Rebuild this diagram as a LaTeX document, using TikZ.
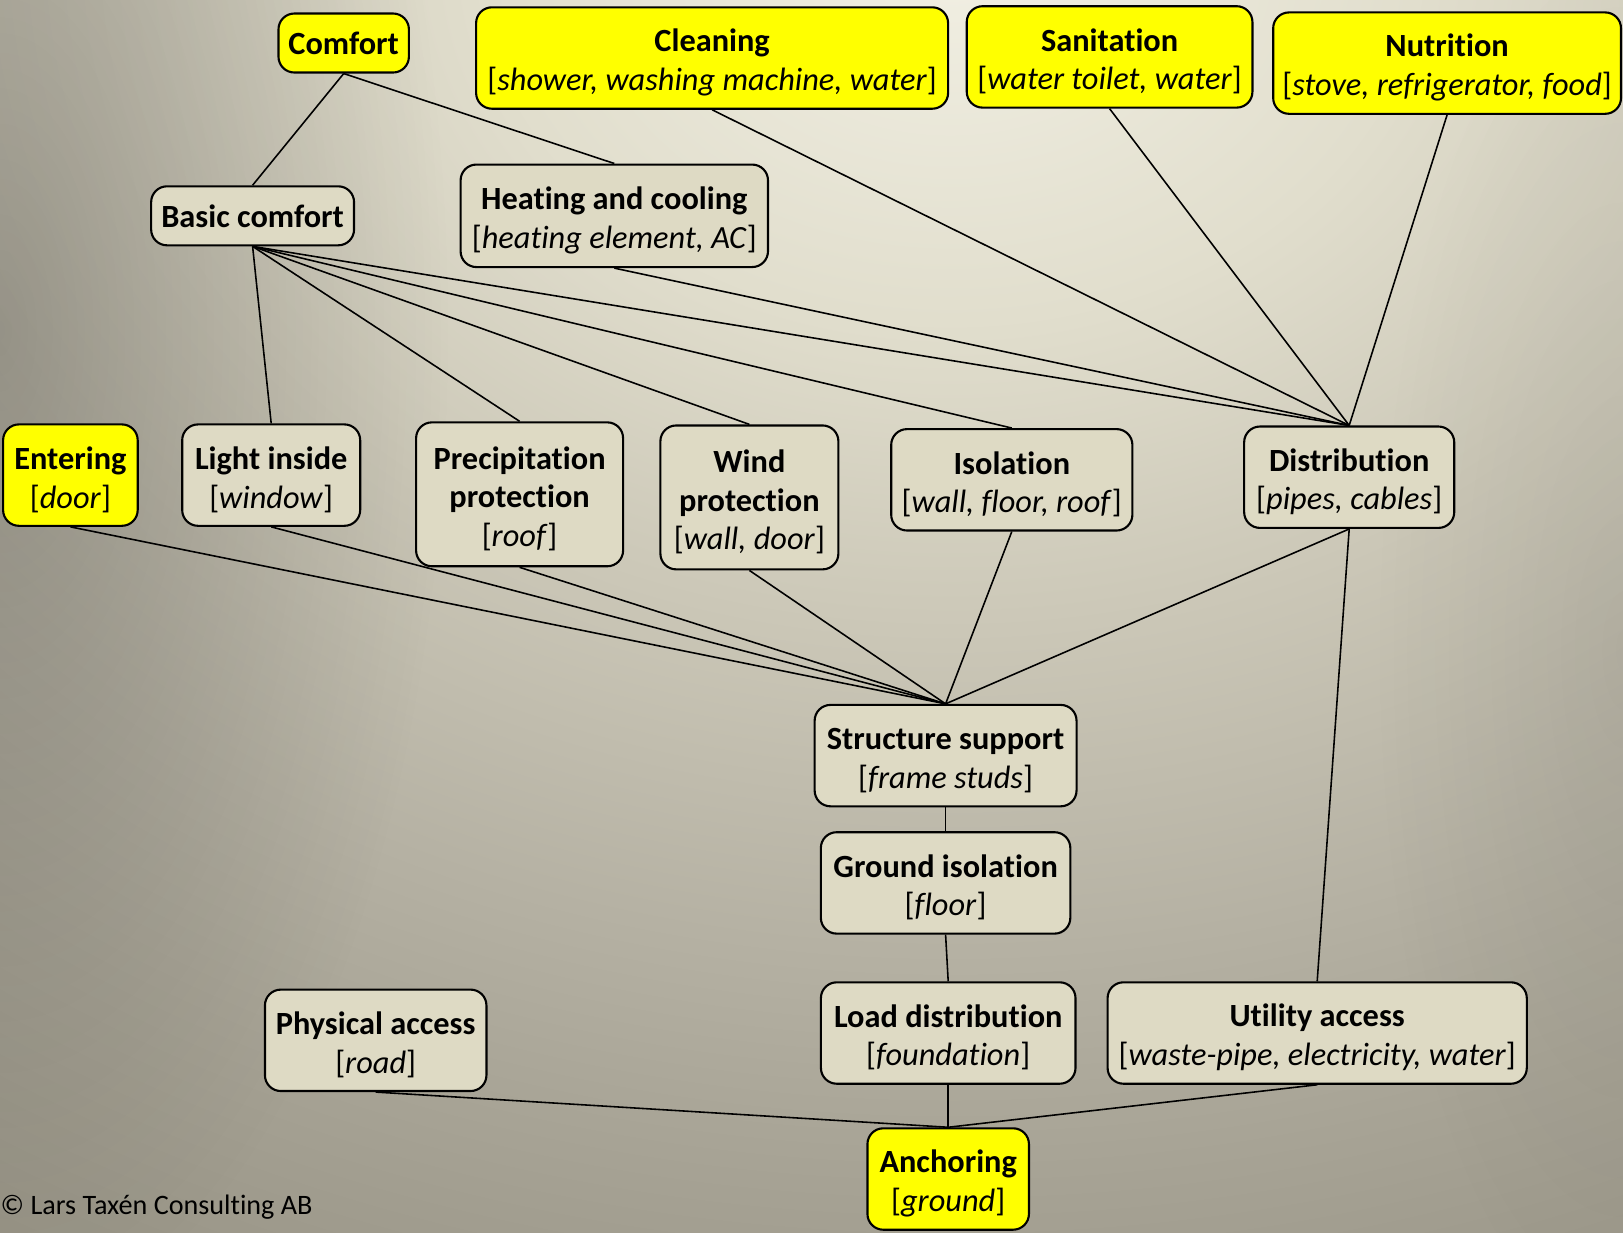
\documentclass[tikz,border=0pt]{standalone}
\usepackage{fontspec}
\setmainfont{Carlito}[Ligatures={NoCommon}]
\usetikzlibrary{fadings}
\definecolor{bgA}{RGB}{242,240,228}
\definecolor{bgB}{RGB}{225,222,205}
\definecolor{bgC}{RGB}{203,199,183}
\definecolor{bgD}{RGB}{181,177,163}
\definecolor{bgE}{RGB}{167,163,149}
\definecolor{bgF}{RGB}{154,150,136}
\definecolor{bgG}{RGB}{140,136,122}
\definecolor{goalyellow}{RGB}{255,255,0}
\definecolor{meansbeige}{RGB}{222,218,196}
% elliptical glow: the shaded path is twice the unit ellipse, so 12.5bp is the unit ellipse
\pgfdeclareradialshading{glow}{\pgfpoint{0bp}{0bp}}{color(0bp)=(bgA); color(4.625bp)=(bgB); color(8.5bp)=(bgC); color(12.5bp)=(bgD); color(15.25bp)=(bgE); color(18.125bp)=(bgF); color(25bp)=(bgG); color(50bp)=(bgG)}
\tikzfading[name=sidevignette, inner color=transparent!0, outer color=transparent!100]
\newcommand\exlist[1]{[\textit{#1}]}
\newcommand\hd[1]{\rule{0pt}{9pt}\textbf{#1}}
\begin{document}
\begin{tikzpicture}[x=0.01cm, y=-0.01cm,
  base/.style={draw=black, line width=0.6pt, rounded corners=4.5pt, align=center,
    inner sep=0pt, font=\fontsize{9.2}{11}\selectfont},
  goal/.style={base, fill=goalyellow},
  means/.style={base, fill=meansbeige},
  sz/.style 2 args={minimum width=#1*0.01cm, minimum height=#2*0.01cm},
  link/.style={line width=0.45pt, draw=black}]

% canvas and soft background glow
\useasboundingbox (0,0) rectangle (1623,1232);
\fill[bgG] (0,0) rectangle (1623,1232);
\begin{scope}
  \clip (0,0) rectangle (1623,1232);
  \shade[shading=glow] (950,-50) ellipse[x radius=25.24cm, y radius=20cm];
  \fill[black, opacity=0.22, path fading=sidevignette] (0,330) ellipse[x radius=4.5cm, y radius=10cm];
  \fill[black, opacity=0.07, path fading=sidevignette] (1623,650) ellipse[x radius=2.5cm, y radius=7cm];
\end{scope}

% top-level goals
\node[goal, sz={130.4}{59}]    (comfort) at (343.7,43.0)  {\textbf{Comfort}};
\node[goal, sz={472}{101.4}]   (clean)   at (712.1,58.0)  {\hd{Cleaning}\\\exlist{shower, washing machine, water}};
\node[goal, sz={285.7}{101.4}] (sanit)   at (1109.6,56.9) {\hd{Sanitation}\\\exlist{water toilet, water}};
\node[goal, sz={347.8}{101.4}] (nutri)   at (1447.1,63.1) {\hd{Nutrition}\\\exlist{stove, refrigerator, food}};

% second level
\node[means, sz={202.9}{59}]    (basic) at (252.6,215.8) {\textbf{Basic comfort}};
\node[means, sz={307.4}{102.5}] (heat)  at (614.3,215.8) {\hd{Heating and cooling}\\\exlist{heating element, AC}};

% functions of the building envelope
\node[goal, sz={134.6}{101.4}]  (enter)  at (70.4,475.1)   {\hd{Entering}\\\exlist{door}};
\node[means, sz={178}{101.4}]   (light)  at (271.2,475.1)  {\hd{Light inside}\\\exlist{window}};
\node[means, sz={207}{143.9}]   (precip) at (519.6,494.3)  {\hd{Precipitation}\\\textbf{protection}\\\exlist{roof}};
\node[means, sz={178}{143.9}]   (wind)   at (749.4,497.4)  {\hd{Wind}\\\textbf{protection}\\\exlist{wall, door}};
\node[means, sz={241.2}{101.4}] (iso)    at (1011.8,479.8) {\hd{Isolation}\\\exlist{wall, floor, roof}};
\node[means, sz={210.1}{101.4}] (distr)  at (1349.2,477.2) {\hd{Distribution}\\\exlist{pipes, cables}};

% load path
\node[means, sz={261.9}{101.4}] (struct) at (945.6,755.6)  {\hd{Structure support}\\\exlist{frame studs}};
\node[means, sz={249.5}{101.4}] (ground) at (945.6,882.9)  {\hd{Ground isolation}\\\exlist{floor}};
\node[means, sz={254.6}{101.4}] (load)   at (948.2,1033.0) {\hd{Load distribution}\\\exlist{foundation}};
\node[means, sz={419.2}{101.4}] (util)   at (1317.2,1033.0) {\hd{Utility access}\\\exlist{waste-pipe, electricity, water}};
\node[means, sz={221.5}{101.4}] (phys)   at (375.7,1040.3) {\hd{Physical access}\\\exlist{road}};
\node[goal, sz={161.5}{101.4}]  (anchor) at (948.2,1179.0) {\hd{Anchoring}\\\exlist{ground}};

\node[anchor=west, inner sep=0pt, font=\fontsize{8}{10}\selectfont] (copy) at (0,1207) {© Lars Taxén Consulting AB};

% connectors
\draw[link] (comfort.south) -- (basic.north);
\draw[link] (comfort.south) -- (heat.north);
\draw[link] (clean.south) -- (distr.north);
\draw[link] (sanit.south) -- (distr.north);
\draw[link] (nutri.south) -- (distr.north);
\draw[link] (heat.south) -- (distr.north);
\foreach \t in {light, precip, wind, iso, distr}
  \draw[link] (basic.south) -- (\t.north);
\foreach \s in {enter, light, precip, wind, iso, distr}
  \draw[link] (\s.south) -- (struct.north);
\draw[link] (distr.south) -- (util.north);
\draw[link] (struct.south) -- (ground.north);
\draw[link] (ground.south) -- (load.north);
\draw[link] (load.south) -- (anchor.north);
\draw[link] (phys.south) -- (anchor.north);
\draw[link] (util.south) -- (anchor.north);
\end{tikzpicture}
\end{document}
